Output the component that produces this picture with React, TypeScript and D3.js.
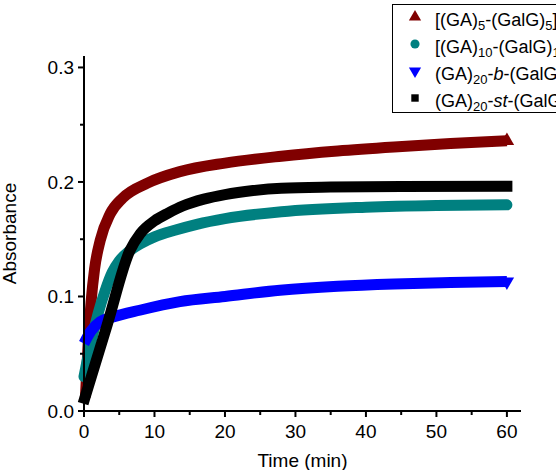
import React, { useRef, useEffect } from "react";
import * as d3 from "d3";

const timeTicks = [0, 10, 20, 30, 40, 50, 60];
const timeMinor = [5, 15, 25, 35, 45, 55];
const absTicks = [0, 0.1, 0.2, 0.3];
const absMinor = [0.05, 0.15, 0.25];

// [time (min), absorbance]
const ga5Data = [
  [0.2, 0.012], [0.6, 0.06], [1.0, 0.095], [1.5, 0.124], [2.3, 0.149], [3.7, 0.172],
  [5.5, 0.186], [9, 0.199], [13.6, 0.209], [20, 0.2165], [28, 0.2225], [36, 0.227],
  [44, 0.2305], [52, 0.2335], [60, 0.236],
];
const ga10Data = [
  [0, 0.03], [1, 0.06], [2, 0.085], [3, 0.105], [4, 0.121], [5, 0.131], [6.5, 0.14],
  [8, 0.146], [10, 0.152], [13, 0.158], [16, 0.163], [20, 0.168], [28, 0.174],
  [40, 0.178], [50, 0.1795], [60, 0.18],
];
const blockData = [
  [0, 0.059], [1, 0.07], [2.3, 0.078], [4.1, 0.082], [7.9, 0.088], [13.6, 0.0955],
  [20, 0.1], [27.8, 0.1055], [36, 0.109], [44, 0.111], [52, 0.1122], [60, 0.113],
];
const stData = [
  [0.1, 0.011], [3.3, 0.0755], [6.5, 0.14], [8, 0.155], [10, 0.166], [12, 0.173],
  [14, 0.179], [17, 0.185], [20, 0.189], [24, 0.1925], [28, 0.1945], [35, 0.1955],
  [45, 0.196], [60, 0.1962],
];

type Seg = { t: string; sub?: boolean; it?: boolean };

const series = [
  {
    data: ga5Data, color: "#800000", sym: d3.symbolTriangle, flip: false, cap: "butt",
    label: [{ t: "[(GA)" }, { t: "5", sub: true }, { t: "-(GalG)" }, { t: "5", sub: true }, { t: "]" }, { t: "4", sub: true }] as Seg[],
  },
  {
    data: ga10Data, color: "#008080", sym: d3.symbolCircle, flip: false, cap: "round",
    label: [{ t: "[(GA)" }, { t: "10", sub: true }, { t: "-(GalG)" }, { t: "10", sub: true }, { t: "]" }, { t: "2", sub: true }] as Seg[],
  },
  {
    data: blockData, color: "#0000ff", sym: d3.symbolTriangle, flip: true, cap: "butt",
    label: [{ t: "(GA)" }, { t: "20", sub: true }, { t: "-" }, { t: "b", it: true }, { t: "-(GalG)" }, { t: "20", sub: true }] as Seg[],
  },
  {
    data: stData, color: "#000000", sym: d3.symbolSquare, flip: false, cap: "square",
    label: [{ t: "(GA)" }, { t: "20", sub: true }, { t: "-" }, { t: "st", it: true }, { t: "-(GalG)" }, { t: "20", sub: true }] as Seg[],
  },
];

function App() {
  const svgRef = useRef<SVGSVGElement>(null);

  useEffect(() => {
    const width = 556, height = 470;
    const font = "'Liberation Sans', Arial, sans-serif";

    const x = d3.scaleLinear().domain([0, 62]).range([84, 521]);
    const y = d3.scaleLinear().domain([0, 0.31]).range([411, 56]);

    const svg = d3.select(svgRef.current);
    svg.selectAll("*").remove();
    svg.attr("width", width).attr("height", height).style("font-family", font);

    // data bands
    const line = d3.line<number[]>()
      .x(d => x(d[0]))
      .y(d => y(d[1]))
      .curve(d3.curveMonotoneX);

    series.forEach(s => {
      svg.append("path")
        .attr("d", line(s.data))
        .attr("fill", "none")
        .attr("stroke", s.color)
        .attr("stroke-width", 11)
        .attr("stroke-linecap", s.cap)
        .attr("stroke-linejoin", "round");
      const last = s.data[s.data.length - 1];
      if (s.sym === d3.symbolTriangle) {
        svg.append("path")
          .attr("d", d3.symbol().type(s.sym).size(90)())
          .attr("transform", `translate(${x(last[0])},${y(last[1])}) rotate(${s.flip ? 180 : 0})`)
          .attr("fill", s.color);
      }
    });

    // axes
    const xAxis = svg.append("g").attr("transform", `translate(0,${y(0)})`);
    xAxis.append("line").attr("x1", x(0) - 1).attr("x2", x(62)).attr("stroke", "#000").attr("stroke-width", 2);
    xAxis.selectAll(".major").data(timeTicks).join("line")
      .attr("x1", d => x(d)).attr("x2", d => x(d)).attr("y1", 0).attr("y2", 6)
      .attr("stroke", "#000").attr("stroke-width", 2);
    xAxis.selectAll(".minor").data(timeMinor).join("line")
      .attr("x1", d => x(d)).attr("x2", d => x(d)).attr("y1", 0).attr("y2", 4)
      .attr("stroke", "#000").attr("stroke-width", 2);
    xAxis.selectAll("text").data(timeTicks).join("text")
      .attr("x", d => x(d)).attr("y", 27)
      .attr("text-anchor", "middle").attr("font-size", 19)
      .text(d => d3.format("d")(d));

    const yAxis = svg.append("g").attr("transform", `translate(${x(0)},0)`);
    yAxis.append("line").attr("y1", y(0) + 1).attr("y2", y(0.31)).attr("stroke", "#000").attr("stroke-width", 2);
    yAxis.selectAll(".major").data(absTicks).join("line")
      .attr("y1", d => y(d)).attr("y2", d => y(d)).attr("x1", 0).attr("x2", -6)
      .attr("stroke", "#000").attr("stroke-width", 2);
    yAxis.selectAll(".minor").data(absMinor).join("line")
      .attr("y1", d => y(d)).attr("y2", d => y(d)).attr("x1", 0).attr("x2", -4)
      .attr("stroke", "#000").attr("stroke-width", 2);
    yAxis.selectAll("text").data(absTicks).join("text")
      .attr("x", -10).attr("y", d => y(d)).attr("dy", "0.35em")
      .attr("text-anchor", "end").attr("font-size", 19)
      .text(d => d3.format(".1f")(d));

    svg.append("text")
      .attr("x", (x(0) + x(62)) / 2).attr("y", 467)
      .attr("text-anchor", "middle").attr("font-size", 19)
      .text("Time (min)");

    svg.append("text")
      .attr("transform", `translate(16,${(y(0) + y(0.31)) / 2}) rotate(-90)`)
      .attr("text-anchor", "middle").attr("font-size", 19)
      .text("Absorbance");

    // legend
    const legend = svg.append("g");
    legend.append("rect")
      .attr("x", 392.5).attr("y", 4.5).attr("width", 200).attr("height", 108)
      .attr("fill", "#fff").attr("stroke", "#000").attr("stroke-width", 1);

    series.forEach((s, i) => {
      const cy = 17 + i * 27;
      legend.append("path")
        .attr("d", d3.symbol().type(s.sym).size(s.sym === d3.symbolSquare ? 55 : 65)())
        .attr("transform", `translate(415,${cy}) rotate(${s.flip ? 180 : 0})`)
        .attr("fill", s.color);

      const text = legend.append("text")
        .attr("x", 435).attr("y", cy + 8.5)
        .attr("font-size", 18);
      let shifted = false;
      s.label.forEach(seg => {
        const ts = text.append("tspan").text(seg.t);
        if (seg.sub) {
          ts.attr("font-size", 13).attr("dy", shifted ? 0 : 4);
          shifted = true;
        } else {
          if (shifted) ts.attr("dy", -4);
          shifted = false;
        }
        if (seg.it) ts.attr("font-style", "italic");
      });
    });
  }, []);

  return (
    <div style={{ position: "absolute", left: 0, top: 0 }}>
      <svg ref={svgRef}></svg>
    </div>
  );
}

export default App;
